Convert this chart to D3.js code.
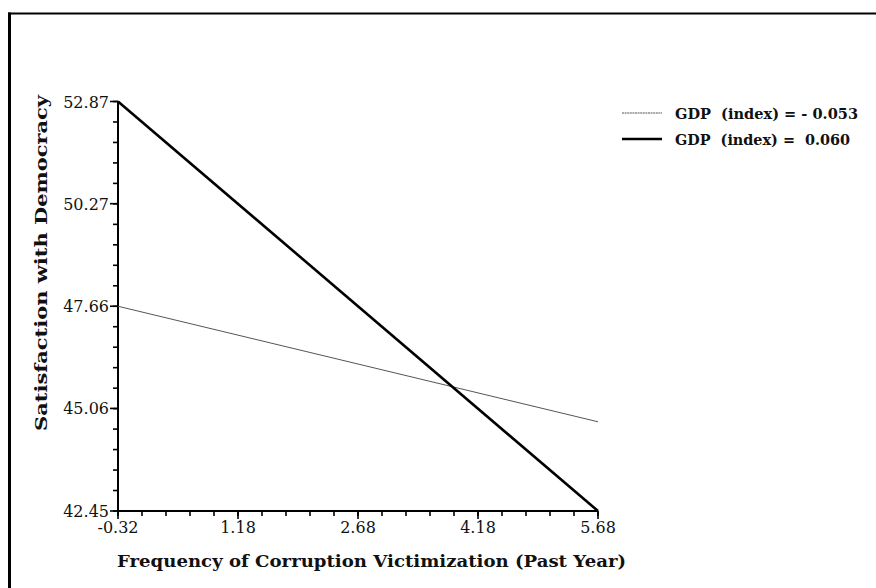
<!DOCTYPE html>
<html>
<head>
<meta charset="utf-8">
<script src="https://cdn.jsdelivr.net/npm/d3@7"></script>
<style>
  html, body { margin: 0; padding: 0; background: #fff; }
  svg { display: block; }
  text { font-family: "DejaVu Serif", "Liberation Serif", serif; fill: #111; }
</style>
</head>
<body>
<script>
// Predicted satisfaction with democracy across corruption victimization,
// at two levels of GDP (index).
const xTicks = [-0.32, 1.18, 2.68, 4.18, 5.68];
const yTicks = [42.45, 45.06, 47.66, 50.27, 52.87];
const xEnds = [-0.32, 5.68];
const seriesNames = ["GDP  (index) = - 0.053", "GDP  (index) =  0.060"];
const lowGdp = [47.66, 44.72];
const highGdp = [52.87, 42.45];

const W = 876, H = 588;
const svg = d3.select("body").append("svg").attr("width", W).attr("height", H);

// Frame: top and left rules
svg.append("line").attr("x1", 8).attr("x2", W).attr("y1", 13.5).attr("y2", 13.5)
  .attr("stroke", "#000").attr("stroke-width", 2);
svg.append("line").attr("x1", 9.5).attr("x2", 9.5).attr("y1", 12.5).attr("y2", H)
  .attr("stroke", "#000").attr("stroke-width", 3);

const x = d3.scaleLinear().domain([-0.32, 5.68]).range([118, 598]);
const y = d3.scaleLinear().domain([42.45, 52.87]).range([511, 101.5]);

// Minor tick positions
const xMinor = d3.range(0, 21).map(i => -0.32 + i * 0.3);
const yMinor = d3.range(0, 21).map(i => 42.45 + i * (52.87 - 42.45) / 20);

const gx = svg.append("g").attr("transform", `translate(0,${y(42.45)})`);
gx.append("line").attr("x1", x(-0.32)).attr("x2", x(5.68)).attr("stroke", "#000").attr("stroke-width", 2);
gx.selectAll("line.minor").data(xMinor).join("line").attr("class", "minor")
  .attr("x1", d => x(d)).attr("x2", d => x(d)).attr("y1", 0).attr("y2", 5)
  .attr("stroke", "#000").attr("stroke-width", 1.6);
gx.selectAll("line.major").data(xTicks).join("line").attr("class", "major")
  .attr("x1", d => x(d)).attr("x2", d => x(d)).attr("y1", 0).attr("y2", 8)
  .attr("stroke", "#000").attr("stroke-width", 1.6);
gx.selectAll("text").data(xTicks).join("text")
  .attr("x", d => x(d)).attr("y", 22).attr("text-anchor", "middle")
  .attr("font-size", 16).text(d => d.toFixed(2));

const gy = svg.append("g").attr("transform", `translate(${x(-0.32)},0)`);
gy.append("line").attr("y1", y(42.45)).attr("y2", y(52.87)).attr("stroke", "#000").attr("stroke-width", 2);
gy.selectAll("line.minor").data(yMinor).join("line").attr("class", "minor")
  .attr("y1", d => y(d)).attr("y2", d => y(d)).attr("x1", 0).attr("x2", -5)
  .attr("stroke", "#000").attr("stroke-width", 1.6);
gy.selectAll("line.major").data(yTicks).join("line").attr("class", "major")
  .attr("y1", d => y(d)).attr("y2", d => y(d)).attr("x1", 0).attr("x2", -8)
  .attr("stroke", "#000").attr("stroke-width", 1.6);
gy.selectAll("text").data(yTicks).join("text")
  .attr("x", -9).attr("y", d => y(d) + 6).attr("text-anchor", "end")
  .attr("font-size", 16).text(d => d.toFixed(2));

// Axis titles
svg.append("text").attr("x", 117).attr("y", 567)
  .attr("font-size", 17.5).attr("font-weight", "bold")
  .attr("textLength", 509).attr("lengthAdjust", "spacingAndGlyphs")
  .text("Frequency of Corruption Victimization (Past Year)");
svg.append("text").attr("transform", "translate(47,431) rotate(-90)")
  .attr("font-size", 17.5).attr("font-weight", "bold")
  .attr("textLength", 336).attr("lengthAdjust", "spacingAndGlyphs")
  .text("Satisfaction with Democracy");

// Lines
const line = d3.line().x((d, i) => x(xEnds[i])).y(d => y(d));
svg.append("path").attr("d", line(lowGdp)).attr("fill", "none")
  .attr("stroke", "#555").attr("stroke-width", 1);
svg.append("path").attr("d", line(highGdp)).attr("fill", "none")
  .attr("stroke", "#000").attr("stroke-width", 2.6);

// Legend
const legendLen = [183, 175];
seriesNames.forEach((name, k) => {
  const yy = 113 + k * 26;
  svg.append("line").attr("x1", 622).attr("x2", 662).attr("y1", yy).attr("y2", yy)
    .attr("stroke", k === 0 ? "#555" : "#000").attr("stroke-width", k === 0 ? 1 : 2.6)
    .attr("stroke-dasharray", k === 0 ? "2,0.6" : null);
  svg.append("text").attr("x", 675).attr("y", yy + 5.5).attr("font-size", 15)
    .attr("font-weight", "bold").style("white-space", "pre")
    .attr("textLength", legendLen[k]).attr("lengthAdjust", "spacingAndGlyphs")
    .text(name);
});
</script>
</body>
</html>
